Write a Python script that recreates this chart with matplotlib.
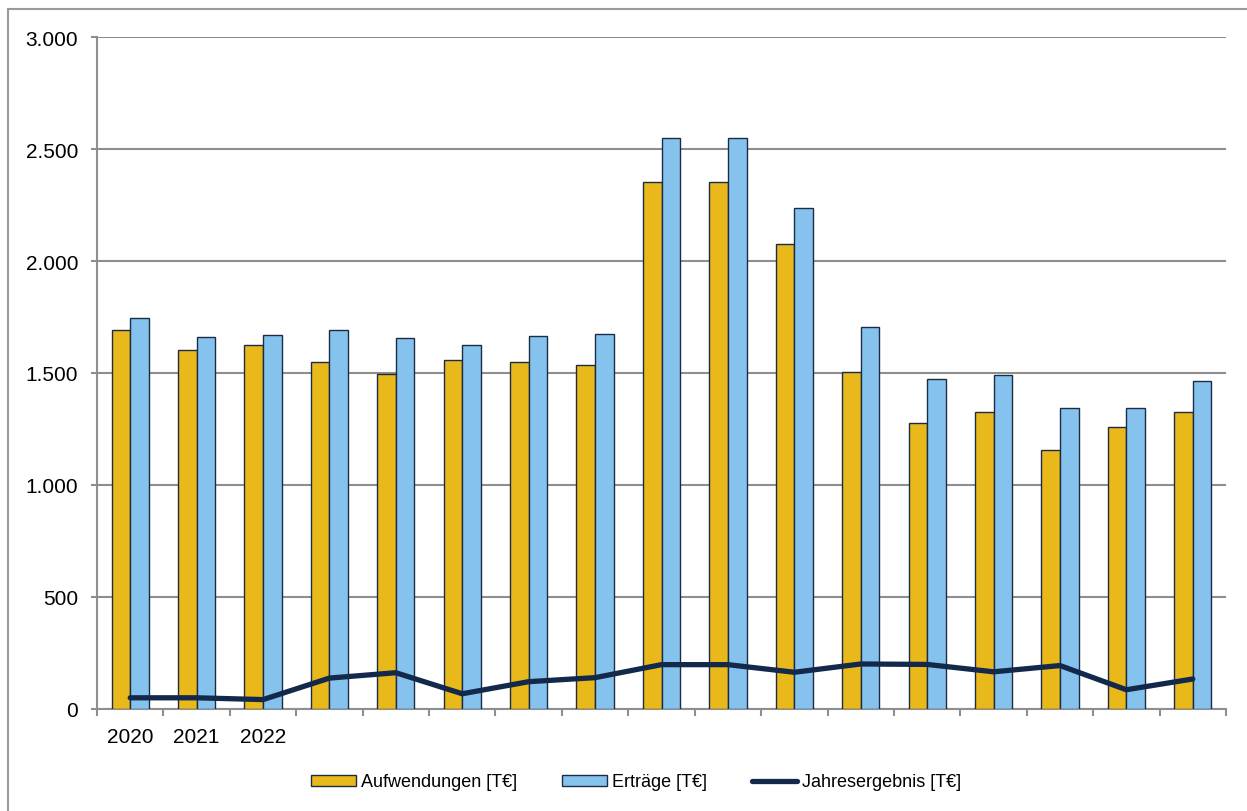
import matplotlib
matplotlib.use("Agg")
import numpy as np
from matplotlib import pyplot as plt
from matplotlib.ticker import FuncFormatter, FixedLocator
from matplotlib.patches import Rectangle
from matplotlib.lines import Line2D

# values (T€)
jahre = ["2020", "2021", "2022"] + [""] * 14
aufwendungen = [1693, 1604, 1624, 1550, 1497, 1557, 1548, 1536, 2354, 2354,
                2075, 1506, 1275, 1327, 1155, 1260, 1327]
ertraege = [1744, 1659, 1670, 1692, 1656, 1624, 1665, 1676, 2549, 2549,
            2236, 1705, 1472, 1491, 1345, 1345, 1463]
jahresergebnis = [50, 50, 42, 138, 162, 68, 122, 140, 198, 198,
                  164, 201, 199, 166, 194, 86, 134]

GOLD = "#E9B81B"
BLUE = "#85C3EE"
NAVY = "#13294B"
EDGE = "#1C2B44"
GRID = "#8E8E8E"


def de_fmt(v, pos):
	return "{:,}".format(int(round(v))).replace(",", ".")


def main():
	plt.rcParams["font.family"] = ["Liberation Sans", "DejaVu Sans"]
	fig = plt.figure(figsize=(12.47, 8.12), dpi=100)
	ax = fig.add_axes([97 / 1247, 102 / 812, 1129 / 1247, 672 / 812])

	x = np.arange(len(aufwendungen))
	w = 0.28
	ax.bar(x - w / 2, aufwendungen, width=w, color=GOLD, edgecolor=EDGE, linewidth=1.0, zorder=3)
	ax.bar(x + w / 2, ertraege, width=w, color=BLUE, edgecolor=EDGE, linewidth=1.0, zorder=3)
	ax.plot(x, jahresergebnis, color=NAVY, linewidth=3.8, solid_capstyle="round",
			solid_joinstyle="miter", zorder=4)

	ax.set_xlim(-0.5, len(x) - 0.5)
	ax.set_ylim(0, 3000)
	ax.set_yticks(np.arange(0, 3001, 500))
	ax.yaxis.set_major_formatter(FuncFormatter(de_fmt))
	ax.yaxis.grid(True, color=GRID, linewidth=1.5, zorder=0)

	ax.set_xticks(x)
	ax.set_xticklabels(jahre)
	ax.xaxis.set_minor_locator(FixedLocator(np.arange(-0.5, len(x), 1.0)))
	ax.tick_params(axis="x", which="major", length=0, pad=13, labelsize=15)
	ax.tick_params(axis="x", which="minor", length=5, width=1.5, color=GRID)
	ax.tick_params(axis="y", length=4.5, width=1.5, color=GRID, pad=9, labelsize=15)

	for s in ["top", "right"]:
		ax.spines[s].set_visible(False)
	for s in ["left", "bottom"]:
		ax.spines[s].set_color(GRID)
		ax.spines[s].set_linewidth(1.5)

	handles = [
		Rectangle((0, 0), 1, 1, facecolor=GOLD, edgecolor=EDGE, linewidth=1.0),
		Rectangle((0, 0), 1, 1, facecolor=BLUE, edgecolor=EDGE, linewidth=1.0),
		Line2D([], [], color=NAVY, linewidth=3.8, solid_capstyle="round"),
	]
	labels = ["Aufwendungen [T€]", "Erträge [T€]", "Jahresergebnis [T€]"]
	fig.legend(handles, labels, loc="center", bbox_to_anchor=(636 / 1247, 29 / 812),
			   ncol=3, frameon=False, fontsize=13, handlelength=2.5, handleheight=0.55,
			   handletextpad=0.25, columnspacing=2.5)

	# outer chart border (left and top visible)
	fig.add_artist(Rectangle((8 / 1247, -0.1), 1.2, (812 - 10) / 812 + 0.1,
							 transform=fig.transFigure, fill=False,
							 edgecolor="#9A9A9A", linewidth=1.5))

	fig.savefig("out.png", dpi=100)


if __name__ == "__main__":
	main()
